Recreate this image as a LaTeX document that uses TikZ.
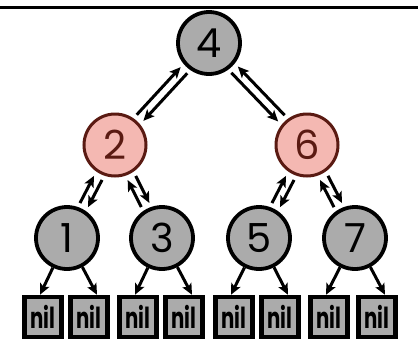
\documentclass[tikz,border=0pt]{standalone}
\usepackage{fontspec}
\setmainfont{Poppins}
\usetikzlibrary{arrows.meta,calc}

\definecolor{nodegray}{HTML}{ABABAB}
\definecolor{redfill}{HTML}{F4B8B2}
\definecolor{redline}{HTML}{5A1A12}

\tikzset{
  keynode/.style={circle, draw=black, line width=3.8pt, fill=nodegray,
    minimum size=62pt, inner sep=0pt,
    font=\fontsize{40}{40}\selectfont},
  rednode/.style={keynode, draw=redline, line width=3pt, fill=redfill,
    text=redline},
  nilbox/.style={rectangle, draw=black, line width=4.5pt, fill=nodegray,
    minimum width=37pt, minimum height=40pt, inner sep=0pt,
    font=\fontsize{29}{29}\selectfont\bfseries},
  arr/.style={line width=3pt,
    -{Stealth[length=11pt,width=10pt,inset=2.5pt]}},
  rule/.style={line width=3pt}
}

% two parallel arrows between a parent (#1) and a child (#2);
% #3 is the signed sideways offset of the upward arrow
\newcommand\linkpair[3]{%
  \draw[arr] ($(#2)!37pt!(#1)!{#3}!90:(#1)$) -- ($(#1)!37pt!(#2)!{#3}!-90:(#2)$);
  \draw[arr] ($(#1)!37pt!(#2)!{#3}!90:(#2)$) -- ($(#2)!37pt!(#1)!{#3}!-90:(#1)$);
}
\newcommand\nilword{\scalebox{0.68}[1]{nil}}

\begin{document}
\begin{tikzpicture}[x=1pt,y=-1pt]
  \useasboundingbox (0,0) rectangle (418,349);

  % rule along the top
  \draw[rule] (0,7.5) -- (418,7.5);

  % keys
  \node[keynode] (n4) at (209,43) {4};
  \node[rednode] (n2) at (115,145) {2};
  \node[rednode] (n6) at (307,145) {6};
  \node[keynode] (n1) at (67,238) {1};
  \node[keynode] (n3) at (162,238) {3};
  \node[keynode] (n5) at (259,238) {5};
  \node[keynode] (n7) at (355,238) {7};

  % leaves
  \foreach \i/\x in {1/43,2/89,3/138,4/184,5/234,6/280,7/329,8/377}
    \node[nilbox] (b\i) at (\x,317) {\nilword};

  % parent/child links
  \linkpair{n4}{n2}{4.5pt}
  \linkpair{n4}{n6}{-4.5pt}
  \linkpair{n2}{n1}{4.5pt}
  \linkpair{n2}{n3}{4.5pt}
  \linkpair{n6}{n5}{4.5pt}
  \linkpair{n6}{n7}{4.5pt}

  % links to the leaves
  \foreach \k/\l/\r in {n1/b1/b2,n3/b3/b4,n5/b5/b6,n7/b7/b8}{
    \draw[arr] (\k) -- ($(\l.north)+(-3,0)$);
    \draw[arr] (\k) -- ($(\r.north)+(8,0)$);
  }
\end{tikzpicture}
\end{document}
